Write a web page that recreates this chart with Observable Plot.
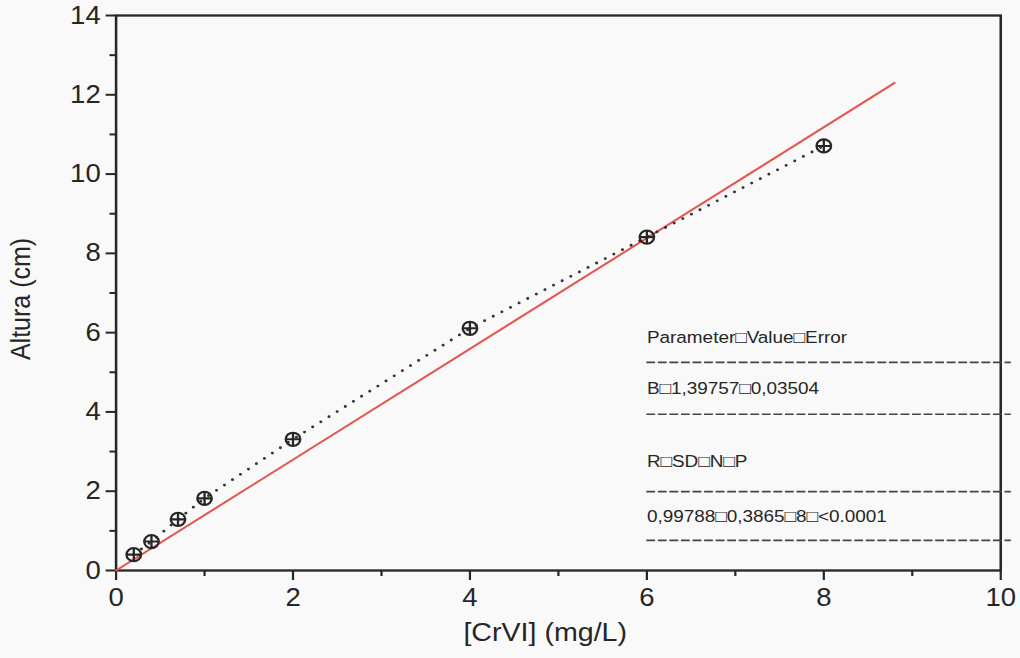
<!DOCTYPE html>
<html>
<head>
<meta charset="utf-8">
<script src="https://cdn.jsdelivr.net/npm/d3@7"></script>
<script src="https://cdn.jsdelivr.net/npm/@observablehq/plot@0.6"></script>
<style>
  html, body { margin: 0; padding: 0; background: #f9f9f9; overflow: hidden; }
  #chart { width: 1020px; height: 658px; }
</style>
</head>
<body>
<div id="chart"></div>
<script>
// ---- data ----
const concentration = [0.2, 0.4, 0.7, 1, 2, 4, 6, 8];          // [CrVI] (mg/L)
const altura = [0.40, 0.73, 1.29, 1.82, 3.31, 6.11, 8.41, 10.71]; // Altura (cm)
const fitX = [0, 8.8];
const fitY = [0, 12.30];
const xMajorTicks = [0, 2, 4, 6, 8, 10];
const xMinorTicks = [1, 3, 5, 7, 9];
const yMajorTicks = [0, 2, 4, 6, 8, 10, 12, 14];
const yMinorTicks = [1, 3, 5, 7, 9, 11, 13];
const tableText = ["Parameter\u25A1Value\u25A1Error", "B\u25A11,39757\u25A10,03504", "R\u25A1SD\u25A1N\u25A1P", "0,99788\u25A10,3865\u25A18\u25A1<0.0001"];
const tableTextY = [5.88, 4.59, 2.75, 1.36];
const tableRuleY = [5.25, 3.94, 1.99, 0.76];
const xTitle = "[CrVI] (mg/L)";
const yTitle = "Altura (cm)";

// ---- build ----
const points = concentration.map((c, i) => ({x: c, y: altura[i]}));
const fit = fitX.map((x, i) => ({x, y: fitY[i]}));
const rows = tableText.map((t, i) => ({t, y: tableTextY[i]}));

const S = 1.1;                // horizontal stretch of the scanned figure
const W0 = Math.round(1020 / S);
const H = 658;
const left = Math.round(116 / S);
const right = Math.round(1000 / S);

const circlePlus = {
  draw(ctx, size) {
    const r = Math.sqrt(size / Math.PI);
    ctx.moveTo(r, 0);
    ctx.arc(0, 0, r, 0, 2 * Math.PI);
    ctx.moveTo(-r, 0); ctx.lineTo(r, 0);
    ctx.moveTo(0, -r); ctx.lineTo(0, r);
  }
};

const ink = "#262626";
const svg = Plot.plot({
  width: W0,
  height: H,
  marginLeft: left,
  marginRight: W0 - right,
  marginTop: 15,
  marginBottom: 88,
  style: {fontFamily: "'Liberation Sans', Arial, sans-serif", background: "transparent", color: ink},
  x: {domain: [0, 10]},
  y: {domain: [0, 14]},
  marks: [
    Plot.axisX({ticks: xMajorTicks, tickSize: 10, tickPadding: 8, fontSize: 25, label: null, strokeWidth: 2, stroke: ink}),
    Plot.axisX({ticks: xMinorTicks, tickSize: 6, tickFormat: () => "", label: null, strokeWidth: 2, stroke: ink}),
    Plot.axisY({ticks: yMajorTicks, tickSize: 9, tickPadding: 5, fontSize: 25, label: null, strokeWidth: 2, stroke: ink}),
    Plot.axisY({ticks: yMinorTicks, tickSize: 5.5, tickFormat: () => "", label: null, strokeWidth: 2, stroke: ink}),
    Plot.frame({stroke: ink, strokeWidth: 2.3}),
    Plot.text([yTitle], {text: d => d, frameAnchor: "left", textAnchor: "middle", rotate: -90, dx: -86, dy: 6, fontSize: 25, fill: ink}),
    Plot.text([xTitle], {text: d => d, frameAnchor: "bottom", dx: -12, dy: 70, fontSize: 26, fill: ink}),
    Plot.line(fit, {x: "x", y: "y", stroke: "#e4574c", strokeWidth: 2}),
    Plot.line(points, {x: "x", y: "y", stroke: "#333", strokeWidth: 2.8, strokeDasharray: "0,9", strokeLinecap: "round"}),
    Plot.dot(points, {x: "x", y: "y", r: 6.6, symbol: circlePlus, stroke: ink, strokeWidth: 2.1, fill: "none"}),
    Plot.ruleY(tableRuleY, {x1: 6, x2: 10.12, stroke: "#444", strokeWidth: 1.6, strokeDasharray: "8,2.5"}),
    Plot.text(rows, {x: 6, y: "y", text: "t", textAnchor: "start", lineAnchor: "middle", fontSize: 17.2, fill: ink})
  ]
});

svg.setAttribute("viewBox", `0 0 ${W0} ${H}`);
svg.setAttribute("preserveAspectRatio", "none");
svg.setAttribute("width", 1020);
svg.setAttribute("height", H);
svg.style.width = "1020px";
svg.style.height = H + "px";
svg.style.maxWidth = "none";
document.getElementById("chart").appendChild(svg);
</script>
</body>
</html>
